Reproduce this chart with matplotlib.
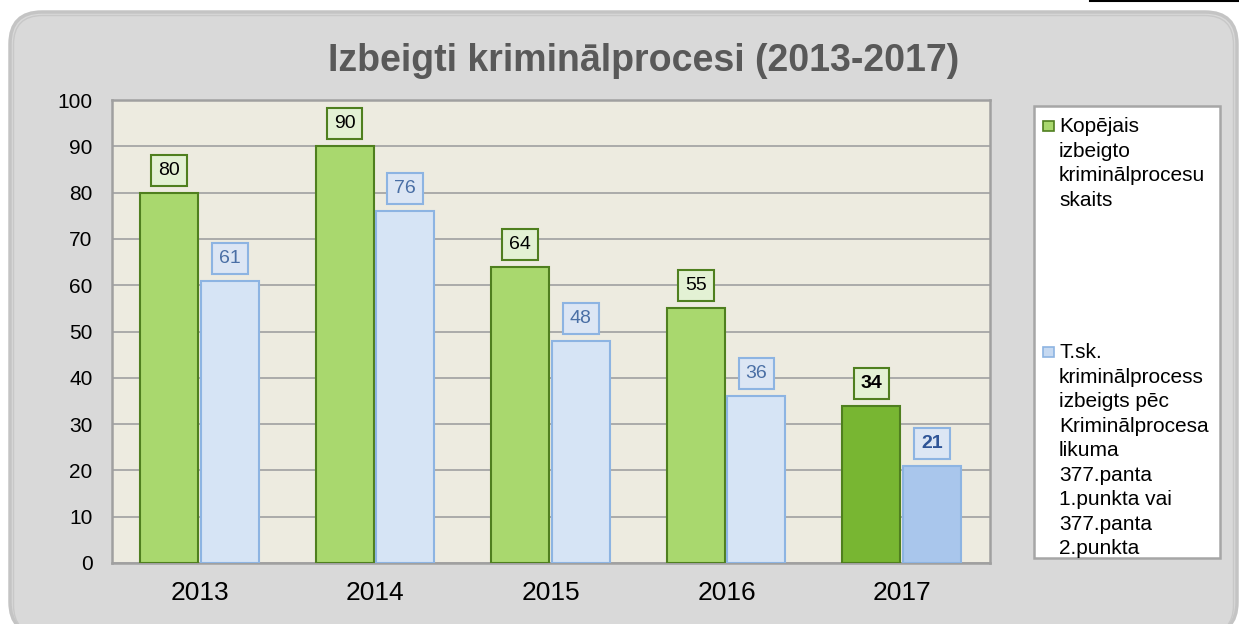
import matplotlib
matplotlib.use("Agg")
from matplotlib import pyplot as plt
from matplotlib.patches import FancyBboxPatch, Rectangle
from matplotlib.lines import Line2D

plt.rcParams['font.family'] = ['Liberation Sans', 'DejaVu Sans']

# data
years = ['2013', '2014', '2015', '2016', '2017']
total = [80, 90, 64, 55, 34]
art377 = [61, 76, 48, 36, 21]
legend_labels = [
    'Kopējais\nizbeigto\nkriminālprocesu\nskaits',
    'T.sk.\nkriminālprocess\nizbeigts pēc\nKriminālprocesa\nlikuma\n377.panta\n1.punkta vai\n377.panta\n2.punkta',
]
title = 'Izbeigti kriminālprocesi (2013-2017)'

W, H = 1239, 624
fig = plt.figure(figsize=(W / 100, H / 100), dpi=100)
fig.patch.set_facecolor('white')


def px(x, y):
    # pixel (from top-left) -> figure fraction
    return x / W, 1 - y / H


# rounded grey panel
panel = FancyBboxPatch((0.10, -0.10), 12.27, 6.22,
                       boxstyle="round,pad=0,rounding_size=0.32",
                       transform=fig.dpi_scale_trans, facecolor='#D9D9D9',
                       edgecolor='#C4C4C4', linewidth=2.5, zorder=-3)
fig.patches.append(panel)
inner = FancyBboxPatch((0.135, -0.10), 12.20, 6.185,
                       boxstyle="round,pad=0,rounding_size=0.29",
                       transform=fig.dpi_scale_trans, facecolor='none',
                       edgecolor='#C8C8C8', linewidth=1.0, zorder=-2)
fig.patches.append(inner)
fig.lines.append(Line2D([1090 / W, 1], [1 - 1 / H, 1 - 1 / H],
                        transform=fig.transFigure, color='black', lw=1.5))

x0, y1 = px(112, 100)
x1, y0 = px(990, 563)
ax = fig.add_axes([x0, y0, x1 - x0, y1 - y0])
ax.set_facecolor('#EDEBE0')

idx = list(range(len(years)))
green = ['#A9D86E'] * 4 + ['#78B632']
blue = ['#D6E4F5'] * 4 + ['#A9C6EC']
b1 = ax.bar([i - 0.175 for i in idx], total, width=0.33, color=green,
            edgecolor='#4F7F1F', linewidth=1.5, zorder=3)
b2 = ax.bar([i + 0.17 for i in idx], art377, width=0.33, color=blue,
            edgecolor='#8DB4E2', linewidth=1.5, zorder=3)

for k, (r, v) in enumerate(zip(b1, total)):
    bold = k == len(total) - 1
    ax.annotate(str(v), (r.get_x() + r.get_width() / 2, v),
                xytext=(0, 10), textcoords='offset points', ha='center',
                va='bottom', fontsize=14, color='black',
                fontweight='bold' if bold else 'normal', zorder=5,
                bbox=dict(boxstyle='square,pad=0.36', fc='#E3F1D4',
                          ec='#4F7F1F', lw=1.5))
for k, (r, v) in enumerate(zip(b2, art377)):
    bold = k == len(art377) - 1
    ax.annotate(str(v), (r.get_x() + r.get_width() / 2, v),
                xytext=(0, 10), textcoords='offset points', ha='center',
                va='bottom', fontsize=14,
                color='#2F5597' if bold else '#4A6FA5',
                fontweight='bold' if bold else 'normal', zorder=5,
                bbox=dict(boxstyle='square,pad=0.36', fc='#DCE6F4',
                          ec='#8DB4E2', lw=1.5))

ax.set_xlim(-0.5, len(years) - 0.5)
ax.set_ylim(0, 100)
ax.set_yticks(range(0, 101, 10))
ax.set_xticks(idx)
ax.set_xticklabels(years, fontsize=19)
ax.tick_params(axis='y', length=0, pad=14, labelsize=15)
ax.tick_params(axis='x', length=0, pad=13)
ax.grid(axis='y', color='#A6A6A6', lw=1.3, zorder=1)
ax.set_axisbelow(True)
for s in ax.spines.values():
    s.set_color('#A0A0A0')
    s.set_linewidth(1.8)

fig.text(*px(644, 71), title, ha='center', va='baseline', fontsize=27,
         fontweight='bold', color='#595959')

# legend box
lx0, ly0 = px(1034, 558)
lx1, ly1 = px(1220, 106)
fig.patches.append(Rectangle((lx0, ly0), lx1 - lx0, ly1 - ly0,
                             transform=fig.transFigure, fc='white',
                             ec='#A6A6A6', lw=1.8, zorder=1))
handles = [('#A9D86E', '#4F7F1F', 121), ('#C6D9F1', '#8DB4E2', 347)]
for (fc, ec, ty), lab in zip(handles, legend_labels):
    hx, hy = px(1043, ty + 10)
    fig.patches.append(Rectangle((hx, hy), 11 / W, 10 / H,
                                 transform=fig.transFigure, fc=fc, ec=ec,
                                 lw=1.2, zorder=2))
    fig.text(*px(1059, ty - 4), lab, ha='left', va='top', fontsize=15,
             linespacing=1.37, color='black')

fig.savefig('out.png', dpi=100)
